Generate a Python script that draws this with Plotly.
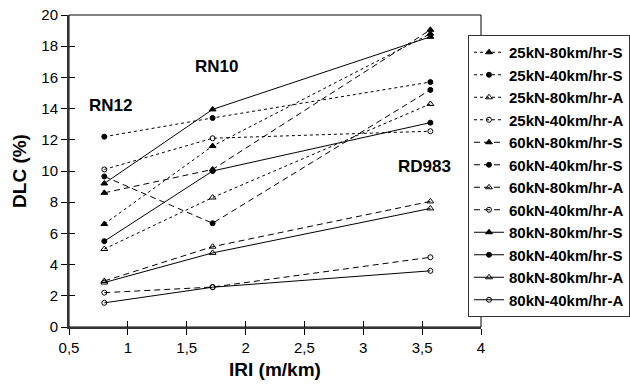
import plotly.graph_objects as go

iri = [0.8, 1.72, 3.57]

names = ["25kN-80km/hr-S", "25kN-40km/hr-S", "25kN-80km/hr-A", "25kN-40km/hr-A",
         "60kN-80km/hr-S", "60kN-40km/hr-S", "60kN-80km/hr-A", "60kN-40km/hr-A",
         "80kN-80km/hr-S", "80kN-40km/hr-S", "80kN-80km/hr-A", "80kN-40km/hr-A"]

dlc_25_80_S = [6.6, 11.6, 18.8]
dlc_25_40_S = [12.2, 13.4, 15.7]
dlc_25_80_A = [5.0, 8.3, 14.3]
dlc_25_40_A = [10.1, 12.1, 12.55]
dlc_60_80_S = [8.6, 10.1, 19.05]
dlc_60_40_S = [9.65, 6.65, 15.2]
dlc_60_80_A = [2.95, 5.15, 8.05]
dlc_60_40_A = [2.2, 2.56, 4.47]
dlc_80_80_S = [9.2, 13.95, 18.6]
dlc_80_40_S = [5.5, 10.0, 13.1]
dlc_80_80_A = [2.85, 4.75, 7.6]
dlc_80_40_A = [1.55, 2.55, 3.6]

series = [dlc_25_80_S, dlc_25_40_S, dlc_25_80_A, dlc_25_40_A,
          dlc_60_80_S, dlc_60_40_S, dlc_60_80_A, dlc_60_40_A,
          dlc_80_80_S, dlc_80_40_S, dlc_80_80_A, dlc_80_40_A]

dashes = ["dot"] * 4 + ["6px,4px"] * 4 + ["solid"] * 4
symbols = ["triangle-up", "circle", "triangle-up-open", "circle-open"] * 3

sites = ["RN12", "RN10", "RD983"]
site_x = [0.85, 1.75, 3.52]
site_y = [14.2, 16.7, 10.3]

FONT = "Liberation Sans, Arial"

fig = go.Figure()
for nm, vals, ds, sym in zip(names, series, dashes, symbols):
    fig.add_trace(go.Scatter(
        x=iri, y=vals, name=nm, mode="lines+markers",
        line=dict(color="black", width=1, dash=ds),
        marker=dict(symbol=sym, size=5 if "circle" in sym else 6, color="black",
                    line=dict(color="black", width=1)),
    ))

for s, sx, sy in zip(sites, site_x, site_y):
    fig.add_annotation(x=sx, y=sy, text="<b>%s</b>" % s, showarrow=False,
                       font=dict(size=17, color="black", family=FONT))

fig.add_shape(type="rect", xref="paper", yref="paper", x0=0, y0=0, x1=1, y1=1,
              line=dict(color="black", width=1), layer="below")

fig.update_layout(
    width=630, height=384,
    margin=dict(l=69, r=149, t=15, b=57, autoexpand=False),
    paper_bgcolor="white", plot_bgcolor="white",
    separators=", ",
    font=dict(family=FONT, size=15, color="black"),
    showlegend=True,
    legend=dict(x=468 / 630, y=1 - 35 / 384, xref="container", yref="container",
                xanchor="left", yanchor="top", maxheight=340,
                bgcolor="white", bordercolor="#333", borderwidth=1,
                font=dict(size=15, color="black", family=FONT, weight=700),
                itemwidth=30, tracegroupgap=0),
    xaxis=dict(range=[0.5, 4], dtick=0.5, tick0=0.5, showgrid=False, zeroline=False,
               showline=True, linecolor="#333", linewidth=2,
               ticks="outside", ticklen=6, tickcolor="black", tickwidth=1,
               tickformat=".1~f", tickfont=dict(size=15),
               title=dict(text="<b>IRI (m/km)</b>", font=dict(size=19), standoff=8)),
    yaxis=dict(range=[0, 20], dtick=2, showgrid=False, zeroline=False,
               showline=True, linecolor="#333", linewidth=2,
               ticks="outside", ticklen=6, tickcolor="black", tickwidth=1,
               tickfont=dict(size=15),
               title=dict(text="<b>DLC (%)</b>", font=dict(size=19), standoff=10)),
    xaxis2=dict(range=[0.5, 4], dtick=0.5, tick0=0.5, overlaying="x", side="bottom",
                showgrid=False, zeroline=False, showline=False, showticklabels=False,
                ticks="inside", ticklen=6, tickcolor="black", tickwidth=1),
    yaxis2=dict(range=[0, 20], dtick=2, overlaying="y", side="left",
                showgrid=False, zeroline=False, showline=False, showticklabels=False,
                ticks="inside", ticklen=6, tickcolor="black", tickwidth=1),
)
fig.add_trace(go.Scatter(x=[None], y=[None], xaxis="x2", yaxis="y2", showlegend=False,
                         hoverinfo="skip"))

fig.write_html("out.html")
